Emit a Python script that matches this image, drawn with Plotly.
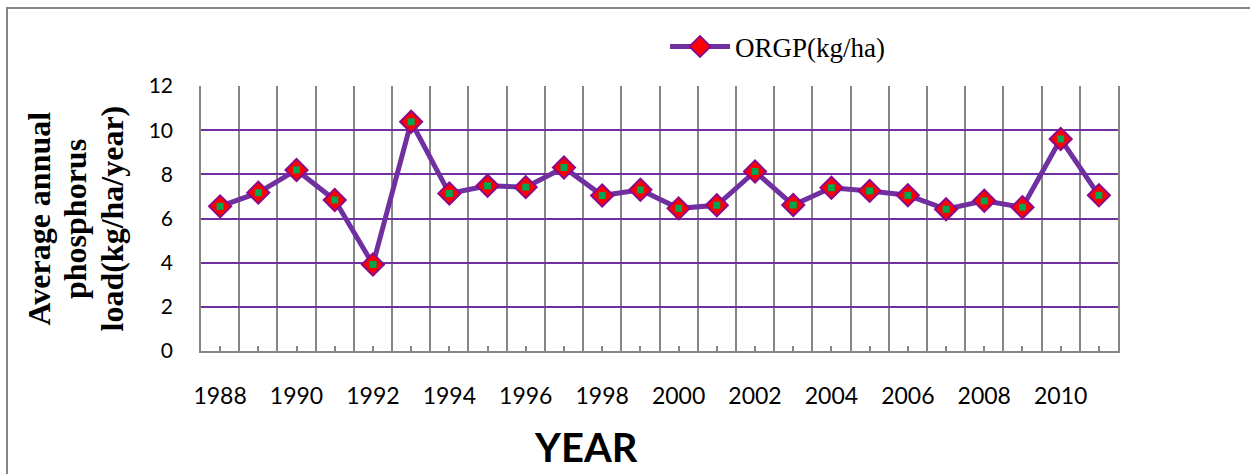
import plotly.graph_objects as go

years = list(range(1988, 2012))
orgp = [6.55, 7.17, 8.20, 6.84, 3.92, 10.38, 7.13, 7.48, 7.42, 8.31, 7.04, 7.30,
        6.46, 6.60, 8.13, 6.61, 7.39, 7.25, 7.05, 6.42, 6.80, 6.51, 9.60, 7.05]
tick_text = [str(y) if y % 2 == 0 else "" for y in years]
y_title_lines = ["Average annual", "phosphorus", "load(kg/ha/year)"]

W, H = 1250, 474
ML, MR, MT, MB = 201, 132, 86, 123
pw, ph = W - ML - MR, H - MT - MB

def px_x(p):
    return (p - ML) / pw

def px_y(p):
    return (H - MB - p) / ph

PURPLE = "#7030A0"
GRAY = "#868686"

fig = go.Figure()
fig.add_trace(go.Scatter(
    x=years, y=orgp, mode="lines+markers", name="ORGP(kg/ha)",
    line=dict(color=PURPLE, width=5),
    marker=dict(symbol="diamond", size=17, color="#FF0000",
                line=dict(color="#8B0A8B", width=2)),
))
fig.add_trace(go.Scatter(
    x=years, y=orgp, mode="markers", showlegend=False, hoverinfo="skip",
    marker=dict(symbol="square", size=7, color="#00A650", line=dict(width=0)),
))

fig.update_layout(
    width=W, height=H,
    margin=dict(l=ML, r=MR, t=MT, b=MB),
    paper_bgcolor="white", plot_bgcolor="white",
    showlegend=True,
    legend=dict(orientation="h", x=px_x(665), y=px_y(47), xanchor="left", yanchor="middle",
                itemwidth=60,
                font=dict(family="Liberation Serif", size=27, color="black"),
                bgcolor="rgba(0,0,0,0)"),
    xaxis=dict(
        range=[years[0] - 0.5, years[-1] + 0.5],
        tickmode="array", tickvals=years, ticktext=tick_text,
        ticks="inside", ticklen=5, tickwidth=1.5, tickcolor=GRAY,
        showgrid=False, zeroline=False,
        showline=True, linecolor=GRAY, linewidth=1.5,
        minor=dict(tickmode="array", tickvals=[y - 0.5 for y in years] + [years[-1] + 0.5],
                   showgrid=True, gridcolor=GRAY, gridwidth=1.5, ticks=""),
        tickfont=dict(family="Lato", size=23, color="black"),
        ticklabelstandoff=24,
    ),
    yaxis=dict(
        range=[0, 12], tickmode="linear", tick0=0, dtick=2,
        showgrid=True, gridcolor=PURPLE, gridwidth=1.5,
        zeroline=False, showline=True, mirror=True, linecolor=GRAY, linewidth=1.5,
        ticks="", tickfont=dict(family="Lato", size=21, color="black"),
        ticklabelstandoff=22,
    ),
)

for txt, cx in zip(y_title_lines, [38.5, 75, 111.5]):
    fig.add_annotation(text="<b>" + txt + "</b>", xref="paper", yref="paper",
                       x=px_x(cx), y=px_y(219), xanchor="center", yanchor="middle",
                       textangle=-90, showarrow=False,
                       font=dict(family="Liberation Serif", size=32, color="black"))

fig.add_annotation(text="<b>YEAR</b>", xref="paper", yref="paper",
                   x=px_x(586), y=px_y(447), xanchor="center", yanchor="middle",
                   showarrow=False, font=dict(family="Lato", size=40, color="black"))

# outer chart frame
fig.add_shape(type="path", xref="paper", yref="paper",
              path=f"M {px_x(7)},{px_y(500)} L {px_x(7)},{px_y(8)} L {px_x(1260)},{px_y(8)}",
              line=dict(color=GRAY, width=2))

fig.write_html("out.html")
